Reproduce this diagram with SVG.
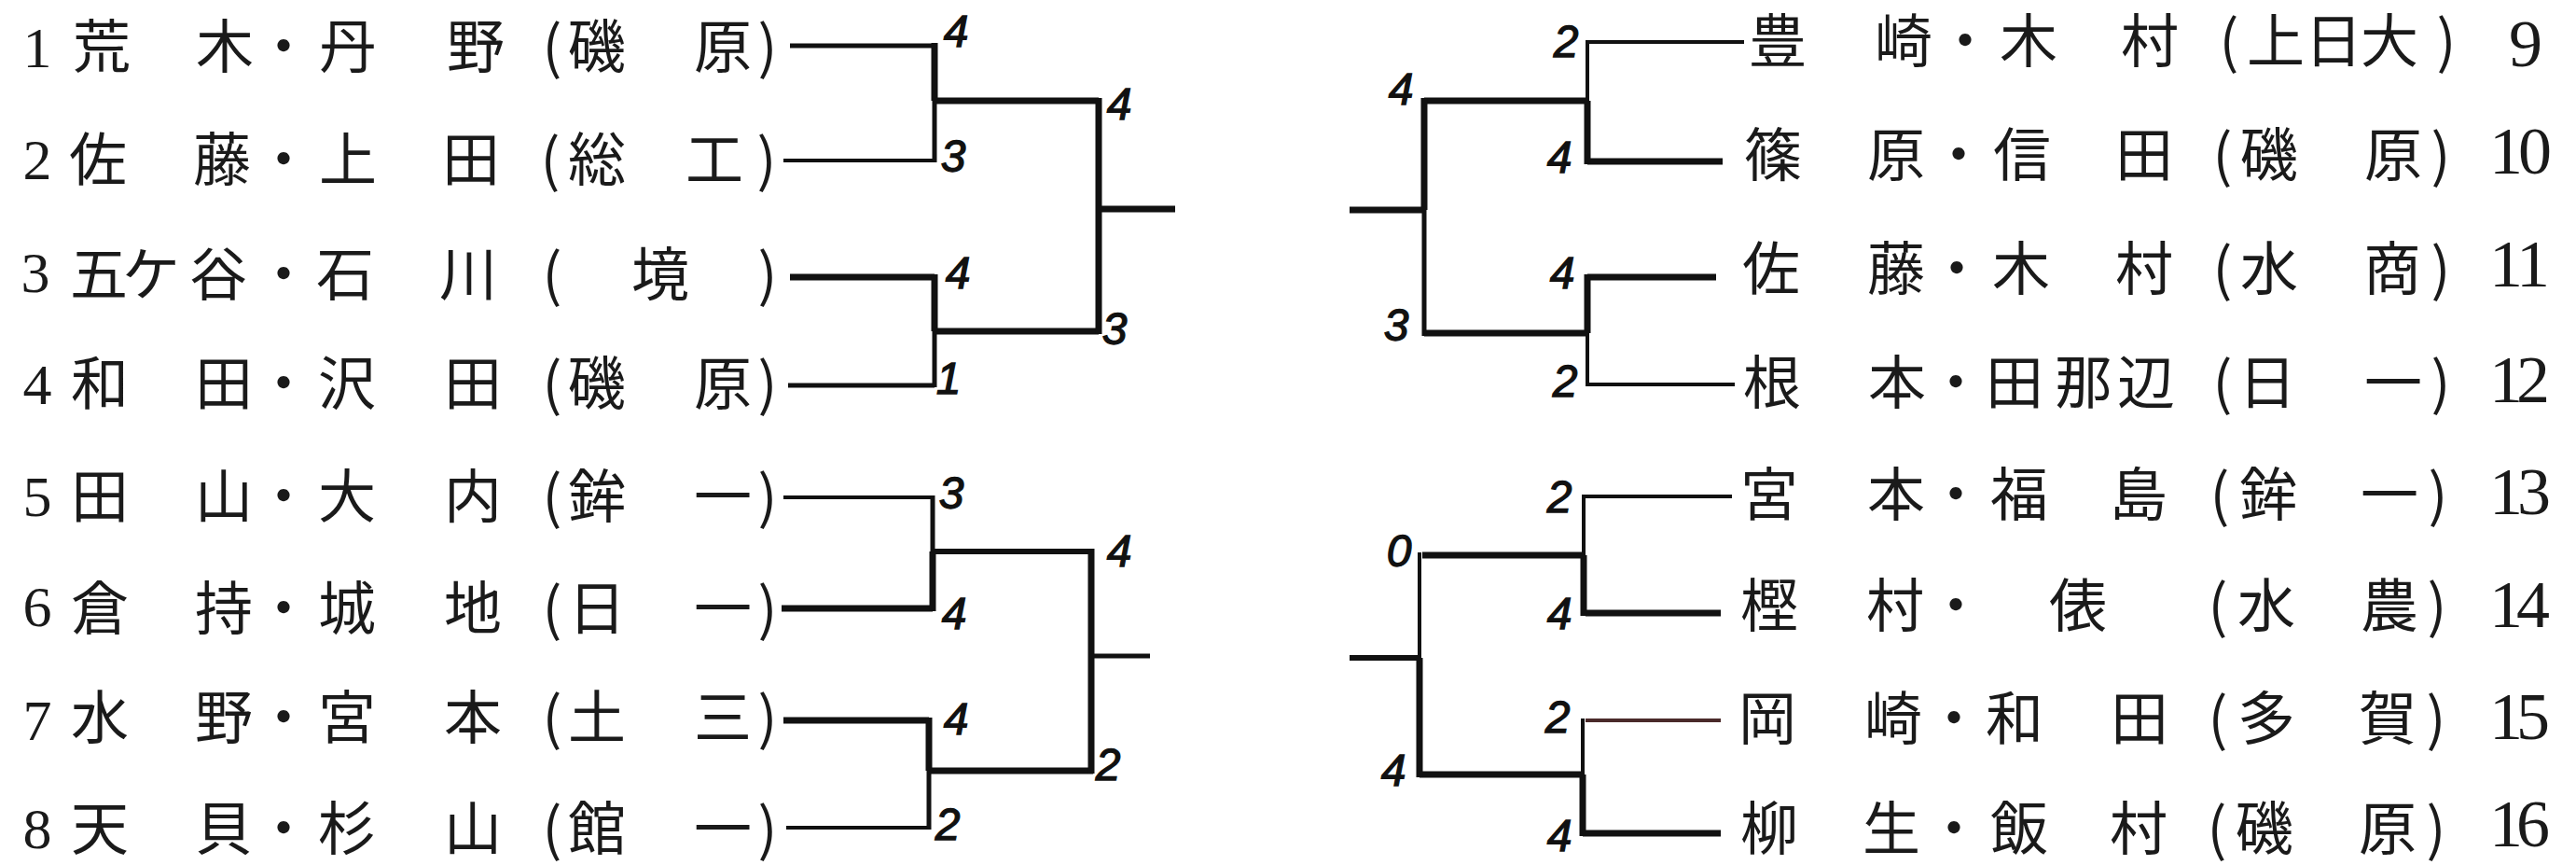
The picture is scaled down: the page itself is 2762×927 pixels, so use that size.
<svg xmlns="http://www.w3.org/2000/svg" width="2762" height="927" viewBox="0 0 2762 927">
<style>
.jp{font-family:"Noto Sans CJK JP","Noto Sans CJK SC",sans-serif;font-size:62px;fill:#1a1a1a;text-anchor:middle}
.ln{font-family:"Liberation Serif",serif;font-size:62px;fill:#1a1a1a;text-anchor:middle}
.rn{font-family:"Liberation Serif",serif;font-size:72px;fill:#1a1a1a;text-anchor:middle}
.sc{font-family:"Liberation Sans",sans-serif;font-style:italic;font-size:48px;fill:#111;stroke:#111;stroke-width:1.3;text-anchor:middle}
.c{stroke:#111;fill:none;stroke-linecap:butt}
.t4{stroke-width:4}.t5{stroke-width:5}.t6{stroke-width:6}.t7{stroke-width:7}
</style>
<rect width="2762" height="927" fill="#ffffff"/>
<g id="connectors">
<path class="c t5" d="M847,49H1002"/>
<path class="c t4" d="M840,172H1002"/>
<path class="c t7" d="M1002,46V108"/>
<path class="c t5" d="M1002,108V174"/>
<path class="c t7" d="M1002,108H1178"/>
<path class="c t7" d="M847,297H1002"/>
<path class="c t5" d="M845,413H1002"/>
<path class="c t7" d="M1002,294V355"/>
<path class="c t5" d="M1002,355V415"/>
<path class="c t7" d="M1002,355H1178"/>
<path class="c t7" d="M1178,105V358"/>
<path class="c t7" d="M1178,224H1260"/>
<path class="c t4" d="M840,533H1000"/>
<path class="c t7" d="M838,652H1000"/>
<path class="c t5" d="M1000,531V591"/>
<path class="c t7" d="M1000,591V655"/>
<path class="c t6" d="M1000,591H1172"/>
<path class="c t7" d="M840,772H996"/>
<path class="c t4" d="M843,887H996"/>
<path class="c t7" d="M996,769V826"/>
<path class="c t5" d="M996,826V889"/>
<path class="c t7" d="M996,826H1172"/>
<path class="c t7" d="M1170,588V829"/>
<path class="c t5" d="M1170,703H1233"/>
<path class="c t4" d="M1702,45H1870"/>
<path class="c t7" d="M1702,173H1847"/>
<path class="c t4" d="M1702,43V108"/>
<path class="c t7" d="M1702,108V176"/>
<path class="c t7" d="M1527,108H1702"/>
<path class="c t7" d="M1702,297H1840"/>
<path class="c t4" d="M1702,412H1860"/>
<path class="c t7" d="M1702,294V357"/>
<path class="c t4" d="M1702,357V414"/>
<path class="c t7" d="M1527,357H1702"/>
<path class="c t7" d="M1527,105V225"/>
<path class="c t5" d="M1527,225V360"/>
<path class="c t7" d="M1447,225H1527"/>
<path class="c t4" d="M1700,532H1857"/>
<path class="c t7" d="M1700,657H1845"/>
<path class="c t4" d="M1698,530V595"/>
<path class="c t7" d="M1698,595V660"/>
<path class="c t7" d="M1525,595H1698"/>
<path class="c t4" d="M1700,772H1845" style="stroke:#4a2a2a"/>
<path class="c t7" d="M1697,893H1845"/>
<path class="c t4" d="M1697,770V830"/>
<path class="c t7" d="M1697,830V896"/>
<path class="c t7" d="M1522,830H1697"/>
<path class="c t4" d="M1522,592V705"/>
<path class="c t7" d="M1522,705V833"/>
<path class="c t6" d="M1447,705H1522"/>
</g>
<g id="scores">
<text class="sc" x="1025" y="50">4</text>
<text class="sc" x="1022" y="184">3</text>
<text class="sc" x="1200" y="128">4</text>
<text class="sc" x="1195" y="369">3</text>
<text class="sc" x="1027" y="309">4</text>
<text class="sc" x="1017" y="422">1</text>
<text class="sc" x="1020" y="545">3</text>
<text class="sc" x="1023" y="674">4</text>
<text class="sc" x="1200" y="607">4</text>
<text class="sc" x="1188" y="836">2</text>
<text class="sc" x="1025" y="787">4</text>
<text class="sc" x="1016" y="900">2</text>
<text class="sc" x="1679" y="61">2</text>
<text class="sc" x="1672" y="185">4</text>
<text class="sc" x="1502" y="112">4</text>
<text class="sc" x="1497" y="365">3</text>
<text class="sc" x="1675" y="309">4</text>
<text class="sc" x="1678" y="425">2</text>
<text class="sc" x="1672" y="549">2</text>
<text class="sc" x="1500" y="607">0</text>
<text class="sc" x="1672" y="674">4</text>
<text class="sc" x="1670" y="785">2</text>
<text class="sc" x="1494" y="842">4</text>
<text class="sc" x="1672" y="912">4</text>
</g>
<g id="p1"><text class="ln" x="40" y="72">1</text><text class="jp" x="109 241 304 373 510" y="73">荒木・丹野</text><text class="jp" x="592 640 775 823" y="73">(磯原)</text></g>
<g id="p2"><text class="ln" x="40" y="192">2</text><text class="jp" x="105 238 304 373 505" y="194">佐藤・上田</text><text class="jp" x="590 640 766 822" y="194">(総工)</text></g>
<g id="p3"><text class="ln" x="38" y="313">3</text><text class="jp" x="106 162 234 304 370 502" y="317">五ケ谷・石川</text><text class="jp" x="592 708 823" y="317">(境)</text></g>
<g id="p4"><text class="ln" x="40" y="433">4</text><text class="jp" x="107 240 304 372 507" y="434">和田・沢田</text><text class="jp" x="592 640 775 823" y="434">(磯原)</text></g>
<g id="p5"><text class="ln" x="40" y="553">5</text><text class="jp" x="107 240 304 372 507" y="555">田山・大内</text><text class="jp" x="592 640 775 823" y="555">(鉾一)</text></g>
<g id="p6"><text class="ln" x="40" y="671">6</text><text class="jp" x="107 240 304 372 507" y="675">倉持・城地</text><text class="jp" x="592 640 775 823" y="675">(日一)</text></g>
<g id="p7"><text class="ln" x="40" y="793">7</text><text class="jp" x="107 240 304 372 507" y="792">水野・宮本</text><text class="jp" x="592 640 775 823" y="792">(土三)</text></g>
<g id="p8"><text class="ln" x="40" y="909">8</text><text class="jp" x="107 240 304 372 507" y="911">天貝・杉山</text><text class="jp" x="592 640 775 823" y="911">(館一)</text></g>
<g id="p9"><text class="jp" x="1906 2041 2107 2175 2305" y="67">豊崎・木村</text><text class="jp" x="2390 2440 2502 2562 2623" y="67">(上日大)</text><text class="rn" x="2708" y="71">9</text></g>
<g id="p10"><text class="jp" x="1901 2033 2100 2168 2299" y="189">篠原・信田</text><text class="jp" x="2383 2433 2566 2617" y="189">(磯原)</text><text class="rn" x="2687 2718" y="186">10</text></g>
<g id="p11"><text class="jp" x="1899 2033 2098 2167 2299" y="311">佐藤・木村</text><text class="jp" x="2383 2433 2565 2617" y="311">(水商)</text><text class="rn" x="2687 2716" y="307">11</text></g>
<g id="p12"><text class="jp" x="1900 2034 2097 2160 2234 2301" y="433">根本・田那辺</text><text class="jp" x="2383 2431 2566 2617" y="433">(日一)</text><text class="rn" x="2687 2716" y="431">12</text></g>
<g id="p13"><text class="jp" x="1897 2033 2097 2165 2293" y="553">宮本・福島</text><text class="jp" x="2380 2432 2562 2614" y="553">(鉾一)</text><text class="rn" x="2687 2717" y="551">13</text></g>
<g id="p14"><text class="jp" x="1897 2032 2097 2228" y="672">樫村・俵</text><text class="jp" x="2378 2430 2562 2613" y="672">(水農)</text><text class="rn" x="2687 2716" y="672">14</text></g>
<g id="p15"><text class="jp" x="1895 2030 2095 2160 2294" y="793">岡崎・和田</text><text class="jp" x="2378 2430 2560 2612" y="793">(多賀)</text><text class="rn" x="2687 2716" y="792">15</text></g>
<g id="p16"><text class="jp" x="1897 2028 2095 2165 2293" y="911">柳生・飯村</text><text class="jp" x="2377 2428 2560 2612" y="911">(磯原)</text><text class="rn" x="2687 2716" y="907">16</text></g>
</svg>
